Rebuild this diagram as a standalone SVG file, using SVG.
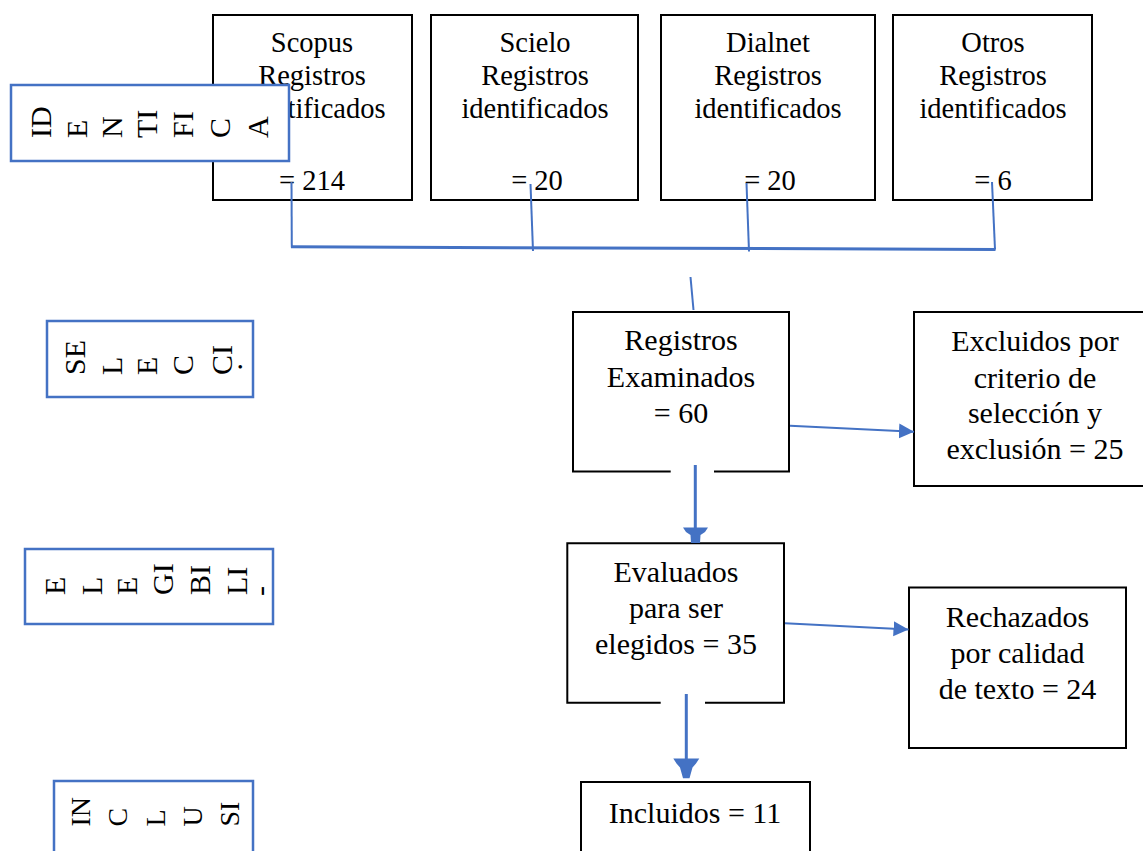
<svg xmlns="http://www.w3.org/2000/svg" width="1143" height="851" viewBox="0 0 1143 851">
<defs>
<style>
.box{fill:#fff;stroke:#000;stroke-width:2}
.lbl{fill:#fff;stroke:#4472C4;stroke-width:2.5}
.t{font-family:"Liberation Serif","Times New Roman",serif;font-size:28.5px;text-anchor:middle;fill:#000}
.tm{font-size:30px}
.v{font-family:"Liberation Serif","Times New Roman",serif;font-size:30px;fill:#000}
.c{stroke:#4472C4;stroke-width:2;fill:none}
.ah{fill:#4472C4;stroke:none}
</style>
<marker id="arr" markerUnits="userSpaceOnUse" markerWidth="16" markerHeight="16" refX="15" refY="7.5" orient="auto">
<path d="M0,0 L15,7.5 L0,15 Z" fill="#4472C4"/>
</marker>
</defs>
<rect width="1143" height="851" fill="#fff"/>

<g id="scopus">
<rect class="box" x="213" y="15" width="199" height="185"/>
<text class="t" x="312" y="52">Scopus</text>
<text class="t" x="312" y="85">Registros</text>
<text class="t" x="312" y="118">identificados</text>
<text class="t" x="312" y="190">= 214</text>
</g>
<g id="scielo">
<rect class="box" x="431" y="15" width="207" height="185"/>
<text class="t" x="535" y="52">Scielo</text>
<text class="t" x="535" y="85">Registros</text>
<text class="t" x="535" y="118">identificados</text>
<text class="t" x="537" y="190">= 20</text>
</g>
<g id="dialnet">
<rect class="box" x="661" y="15" width="214" height="185"/>
<text class="t" x="768" y="52">Dialnet</text>
<text class="t" x="768" y="85">Registros</text>
<text class="t" x="768" y="118">identificados</text>
<text class="t" x="770" y="190">= 20</text>
</g>
<g id="otros">
<rect class="box" x="893" y="15" width="199" height="185"/>
<text class="t" x="993" y="52">Otros</text>
<text class="t" x="993" y="85">Registros</text>
<text class="t" x="993" y="118">identificados</text>
<text class="t" x="993" y="190">= 6</text>
</g>

<g id="identifica">
<rect class="lbl" x="11" y="85" width="278" height="76"/>
<text class="v" transform="translate(51,138) rotate(-90)">ID</text>
<text class="v" transform="translate(87,138) rotate(-90)">E</text>
<text class="v" transform="translate(122,138) rotate(-90)">N</text>
<text class="v" transform="translate(157,138) rotate(-90)">TI</text>
<text class="v" transform="translate(193,138) rotate(-90)">FI</text>
<text class="v" transform="translate(230,138) rotate(-90)">C</text>
<text class="v" transform="translate(268,138) rotate(-90)">A</text>
</g>

<g id="seleccion">
<rect class="lbl" x="47" y="321" width="206" height="76"/>
<text class="v" transform="translate(85,375) rotate(-90)">SE</text>
<text class="v" transform="translate(121.5,375) rotate(-90)">L</text>
<text class="v" transform="translate(157,375) rotate(-90)">E</text>
<text class="v" transform="translate(193,375) rotate(-90)">C</text>
<text class="v" transform="translate(231.5,375) rotate(-90)">CI</text>
<text class="v" transform="translate(242,370.5) rotate(-90)">.</text>
</g>

<g id="elegibilidad">
<rect class="lbl" x="25" y="549" width="248" height="75"/>
<text class="v" transform="translate(65,595) rotate(-90)">E</text>
<text class="v" transform="translate(101.5,595) rotate(-90)">L</text>
<text class="v" transform="translate(137,595) rotate(-90)">E</text>
<text class="v" transform="translate(173,595) rotate(-90)">GI</text>
<text class="v" transform="translate(210,595) rotate(-90)">BI</text>
<text class="v" transform="translate(246.5,595) rotate(-90)">LI</text>
<text class="v" transform="translate(270,596) rotate(-90)">-</text>
</g>

<g id="inclusion">
<rect class="lbl" x="54" y="781" width="199" height="90"/>
<text class="v" style="font-size:28px" transform="translate(90,826.5) rotate(-90)">IN</text>
<text class="v" style="font-size:28px" transform="translate(126.5,826.5) rotate(-90)">C</text>
<text class="v" style="font-size:28px" transform="translate(165,826.5) rotate(-90)">L</text>
<text class="v" style="font-size:28px" transform="translate(201.5,826.5) rotate(-90)">U</text>
<text class="v" style="font-size:28px" transform="translate(238.5,826.5) rotate(-90)">SI</text>
</g>

<g id="examinados">
<rect x="573" y="312" width="216" height="159.5" fill="#fff"/>
<path d="M670.7,471.5 H573 V312 H789 V471.5 H714" fill="none" stroke="#000" stroke-width="2"/>
<text class="t tm" x="681" y="350">Registros</text>
<text class="t tm" x="681" y="387">Examinados</text>
<text class="t tm" x="681" y="423">= 60</text>
</g>

<g id="excluidos">
<rect class="box" x="914" y="312" width="242" height="174"/>
<text class="t tm" x="1035" y="351">Excluidos por</text>
<text class="t tm" x="1035" y="388">criterio de</text>
<text class="t tm" x="1035" y="423">selección y</text>
<text class="t tm" x="1035" y="459">exclusión = 25</text>
</g>

<g id="evaluados">
<rect x="567.3" y="543.3" width="216.7" height="159.4" fill="#fff"/>
<path d="M660.7,702.7 H567.3 V543.3 H784 V702.7 H705" fill="none" stroke="#000" stroke-width="2"/>
<text class="t tm" x="676" y="582">Evaluados</text>
<text class="t tm" x="676" y="618">para ser</text>
<text class="t tm" x="676" y="654">elegidos = 35</text>
</g>

<g id="rechazados">
<rect class="box" x="909" y="587.5" width="217" height="160.5"/>
<text class="t tm" x="1017.5" y="627">Rechazados</text>
<text class="t tm" x="1017.5" y="663">por calidad</text>
<text class="t tm" x="1017.5" y="699">de texto = 24</text>
</g>

<g id="incluidos">
<rect class="box" x="581" y="782" width="229" height="100"/>
<text class="t tm" x="695" y="823">Incluidos = 11</text>
</g>

<g id="connectors">
<line class="c" x1="291.5" y1="182" x2="291.8" y2="247.5"/>
<line class="c" x1="530.5" y1="184" x2="533" y2="251"/>
<line class="c" x1="746.5" y1="183" x2="749" y2="251.5"/>
<line class="c" x1="992" y1="182" x2="995" y2="249.5"/>
<line class="c" style="stroke-width:3" x1="291" y1="246.8" x2="995.5" y2="249.5"/>
<line class="c" x1="690.5" y1="277" x2="693.5" y2="310"/>
<line class="c" x1="790" y1="425.7" x2="914" y2="431.7" marker-end="url(#arr)"/>
<line class="c" x1="785" y1="623.3" x2="908.5" y2="629.5" marker-end="url(#arr)"/>
<line class="c" style="stroke-width:3" x1="695.3" y1="465" x2="695.3" y2="530"/>
<path class="ah" d="M683,527.5 L708,527.5 L705,532 L700.5,535 L700,543 L691,543 L690.5,535 L686,532 Z"/>
<line class="c" style="stroke-width:3" x1="686.3" y1="694" x2="686.3" y2="760"/>
<path class="ah" d="M673.3,758.5 L699.3,758.5 L696,763.5 L692.5,767.5 L689.5,778.3 L683,778.3 L680,767.5 L676.5,763.5 Z"/>
</g>
</svg>
